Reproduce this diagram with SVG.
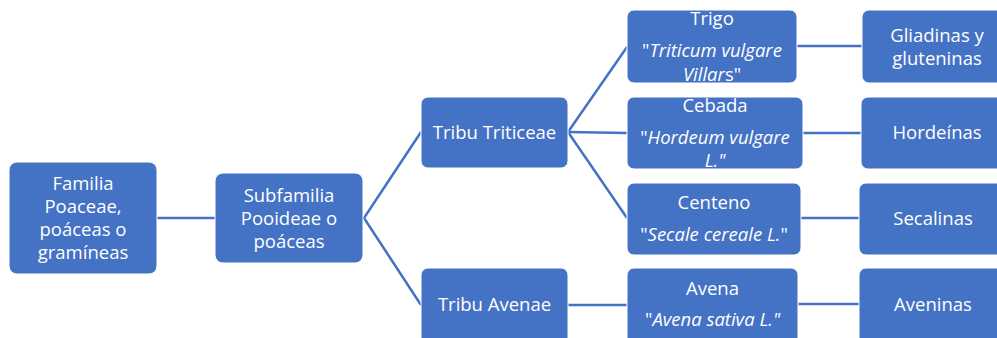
<svg xmlns="http://www.w3.org/2000/svg" width="997" height="338" viewBox="0 0 997 338">
<style>
.box{fill:#4472C4;stroke:#ffffff;stroke-width:1}
.t{font-family:"Open Sans","Noto Sans",sans-serif;font-size:18.5px;fill:#ffffff;text-anchor:middle}
.i{font-style:italic}
.c{stroke:#4472C4;stroke-width:2.5;fill:none}
</style>
<rect width="997" height="338" fill="#ffffff"/>
<g id="connectors">
<line class="c" x1="157" y1="218" x2="215" y2="218"/>
<polyline class="c" points="421,132 364,218 421,305"/>
<line class="c" x1="568" y1="132" x2="627" y2="47"/>
<line class="c" x1="568" y1="132" x2="627" y2="133"/>
<line class="c" x1="568" y1="132" x2="627" y2="218"/>
<line class="c" x1="568" y1="305" x2="627" y2="305"/>
<line class="c" x1="797" y1="46" x2="862" y2="46"/>
<line class="c" x1="803" y1="133" x2="861" y2="133"/>
<line class="c" x1="801" y1="218" x2="859" y2="218"/>
<line class="c" x1="798" y1="304" x2="859" y2="304"/>
</g>
<g id="familia">
<rect class="box" x="9" y="162" width="148" height="112" rx="8"/>
<text class="t" x="83" y="190">Familia</text>
<text class="t" x="83" y="213">Poaceae,</text>
<text class="t" x="83" y="236">poáceas o</text>
<text class="t" x="83" y="259">gramíneas</text>
</g>
<g id="subfamilia">
<rect class="box" x="215" y="173" width="148" height="90" rx="8"/>
<text class="t" x="289" y="202">Subfamilia</text>
<text class="t" x="289" y="225">Pooideae o</text>
<text class="t" x="289" y="248">poáceas</text>
</g>
<g id="triticeae">
<rect class="box" x="421" y="97" width="147" height="71" rx="7"/>
<text class="t" x="494.5" y="139">Tribu Triticeae</text>
</g>
<g id="avenae">
<rect class="box" x="421" y="268" width="147" height="80" rx="7"/>
<text class="t" x="494.5" y="311">Tribu Avenae</text>
</g>
<g id="trigo">
<rect class="box" x="627" y="10" width="170" height="73" rx="7"/>
<text class="t" x="712" y="25">Trigo</text>
<text class="t" x="712" y="57">"<tspan class="i">Triticum vulgare</tspan></text>
<text class="t" x="712" y="81"><tspan class="i">Villar</tspan>s"</text>
</g>
<g id="cebada">
<rect class="box" x="627" y="97" width="176" height="72" rx="7"/>
<text class="t" x="715" y="112">Cebada</text>
<text class="t" x="715" y="144">"<tspan class="i">Hordeum vulgare</tspan></text>
<text class="t i" x="715" y="167">L."</text>
</g>
<g id="centeno">
<rect class="box" x="627" y="183" width="174" height="72" rx="7"/>
<text class="t" x="714" y="209">Centeno</text>
<text class="t" x="714" y="241">"<tspan class="i">Secale cereale L.</tspan>"</text>
</g>
<g id="avena">
<rect class="box" x="627" y="268" width="171" height="80" rx="7"/>
<text class="t" x="712.5" y="295">Avena</text>
<text class="t" x="712.5" y="326">"<tspan class="i">Avena sativa L."</tspan></text>
</g>
<g id="gliadinas">
<rect class="box" x="862" y="10" width="150" height="73" rx="7"/>
<text class="t" x="937" y="42">Gliadinas y</text>
<text class="t" x="937" y="65">gluteninas</text>
</g>
<g id="hordeinas">
<rect class="box" x="861" y="97" width="150" height="72" rx="7"/>
<text class="t" x="937" y="139">Hordeínas</text>
</g>
<g id="secalinas">
<rect class="box" x="859" y="183" width="150" height="72" rx="7"/>
<text class="t" x="933" y="225">Secalinas</text>
</g>
<g id="aveninas">
<rect class="box" x="859" y="268" width="150" height="80" rx="7"/>
<text class="t" x="933" y="311">Aveninas</text>
</g>
</svg>
